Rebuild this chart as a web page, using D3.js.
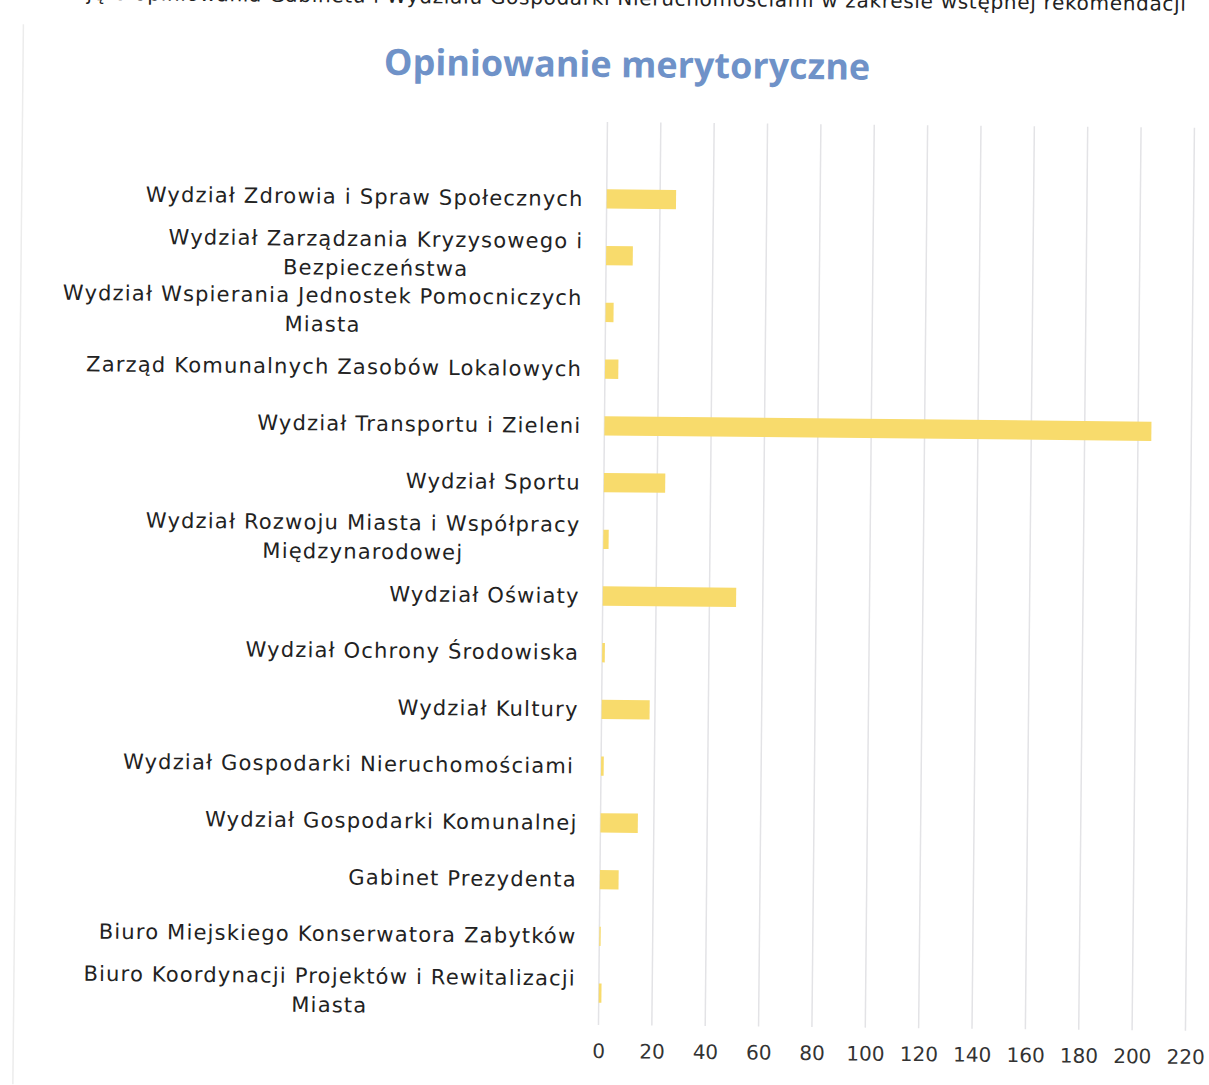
<!doctype html>
<html>
<head>
<meta charset="utf-8">
<script src="https://d3js.org/d3.v7.min.js"></script>
<style>
    body { margin: 0; background: #fff; }
    text { font-family: "DejaVu Sans", sans-serif; }
</style>
</head>
<body>
<svg width="1209" height="1085"></svg>
<script>

    // categories, top to bottom as drawn
    var categories = [
        "Wydział Zdrowia i Spraw Społecznych",
        "Wydział Zarządzania Kryzysowego i Bezpieczeństwa",
        "Wydział Wspierania Jednostek Pomocniczych Miasta",
        "Zarząd Komunalnych Zasobów Lokalowych",
        "Wydział Transportu i Zieleni",
        "Wydział Sportu",
        "Wydział Rozwoju Miasta i Współpracy Międzynarodowej",
        "Wydział Oświaty",
        "Wydział Ochrony Środowiska",
        "Wydział Kultury",
        "Wydział Gospodarki Nieruchomościami ",
        "Wydział Gospodarki Komunalnej",
        "Gabinet Prezydenta",
        "Biuro Miejskiego Konserwatora Zabytków",
        "Biuro Koordynacji Projektów i Rewitalizacji Miasta"
    ];
    var values = [26, 10, 3, 5, 205, 23, 2, 50, 1, 18, 1, 14, 7, 0.5, 1];
    var xTicks = [0, 20, 40, 60, 80, 100, 120, 140, 160, 180, 200, 220];

    var title = "Opiniowanie merytoryczne";
    var note = "nie ujęto opiniowania Gabinetu i Wydziału Gospodarki Nieruchomościami w zakresie wstępnej rekomendacji";

    var svg = d3.select("svg");

    // the source is a slightly tilted scan
    var page = svg.append("g")
        .attr("transform", "rotate(0.57, 603, 570)");

    var x = d3.scaleLinear().domain([0, 220]).range([603, 1190]);
    var y = d3.scaleBand().domain(categories).range([170.6, 1021.4]).paddingInner(0.66).paddingOuter(0.33);

    var fs = "21px", ls = "1.2px";

    // faint frame line on the left
    page.append("line")
        .attr("x1", 18).attr("x2", 18)
        .attr("y1", 30).attr("y2", 1090)
        .attr("stroke", "#ececec")
        .attr("stroke-width", 1.5);

    // cut-off note at the very top
    page.append("text")
        .attr("x", 1181)
        .attr("y", 5)
        .attr("text-anchor", "end")
        .attr("font-size", "20px")
        .attr("letter-spacing", "0.7px")
        .attr("fill", "#222")
        .text(note);

    page.append("text")
        .attr("x", 622)
        .attr("y", 77)
        .attr("text-anchor", "middle")
        .style("font-family", "'Open Sans', sans-serif")
        .attr("font-size", "36px")
        .attr("font-weight", "bold")
        .attr("fill", "#6f92c8")
        .text(title);

    // gridlines
    page.append("g")
        .selectAll("line")
        .data(xTicks)
        .enter().append("line")
        .attr("x1", function(d) { return x(d); })
        .attr("x2", function(d) { return x(d); })
        .attr("y1", 122)
        .attr("y2", 1025)
        .attr("stroke", "#e3e3e6")
        .attr("stroke-width", 1.5);

    // x axis labels
    var xAxis = page.append("g")
        .attr("transform", "translate(0,1040)")
        .call(d3.axisBottom(x).tickValues(xTicks).tickSize(0).tickPadding(0));
    xAxis.select(".domain").remove();
    xAxis.selectAll("text")
        .style("font-family", "'DejaVu Sans', sans-serif")
        .attr("font-size", "20px")
        .attr("fill", "#333")
        .attr("dy", "0.9em");

    // bars
    page.append("g")
        .selectAll("rect")
        .data(values)
        .enter().append("rect")
        .attr("x", x(0))
        .attr("y", function(d, i) { return y(categories[i]); })
        .attr("width", function(d) { return x(d) - x(0); })
        .attr("height", y.bandwidth())
        .attr("fill", "#f8db6c");

    // category labels, wrapped and centred on each other, block right aligned
    var maxW = 550, labelRight = x(0) - 23, lineH = 29;
    var labels = page.append("g");
    categories.forEach(function(name, i) {
        var words = name.trim().split(" "), lines = [], cur = "";
        var probe = labels.append("text").attr("font-size", fs).attr("letter-spacing", ls);
        words.forEach(function(w) {
            var test = cur ? cur + " " + w : w;
            probe.text(test);
            if (probe.node().getComputedTextLength() > maxW && cur) {
                lines.push(cur);
                cur = w;
            } else {
                cur = test;
            }
        });
        lines.push(cur);
        if (name.endsWith(" ")) lines[lines.length - 1] += " ";
        var widths = lines.map(function(l) { probe.text(l); return probe.node().getComputedTextLength(); });
        probe.remove();
        var blockW = d3.max(widths);
        var cy = y(name) + y.bandwidth() / 2;
        var t = labels.append("text")
            .attr("text-anchor", "middle")
            .attr("font-size", fs)
            .attr("letter-spacing", ls)
            .attr("fill", "#222")
            .style("white-space", "pre");
        lines.forEach(function(l, k) {
            t.append("tspan")
                .attr("x", labelRight - blockW / 2)
                .attr("y", cy + (k - (lines.length - 1) / 2) * lineH)
                .attr("dy", "0.35em")
                .text(l);
        });
    });
</script>
</body>
</html>
